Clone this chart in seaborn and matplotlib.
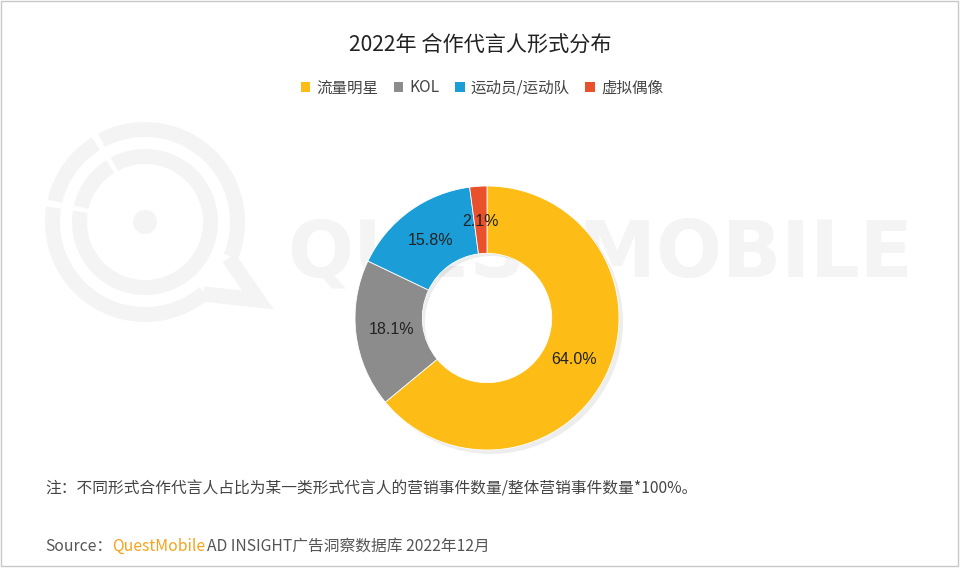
import matplotlib
matplotlib.use("Agg")
import matplotlib.pyplot as plt
import matplotlib.patches as mpatches
import seaborn as sns

# data
categories = ["流量明星", "KOL", "运动员/运动队", "虚拟偶像"]
shares = [64.0, 18.1, 15.8, 2.1]
colors = ["#FDBD16", "#8C8C8C", "#1B9DD8", "#E9502C"]

title = "2022年 合作代言人形式分布"
note = "注：不同形式合作代言人占比为某一类形式代言人的营销事件数量/整体营销事件数量*100%。"
source_parts = [("Source：", "#555555"), ("QuestMobile", "#F7A21B"),
                ("AD INSIGHT广告洞察数据库 2022年12月", "#555555")]

sns.set_theme(style="white")
plt.rcParams["font.family"] = ["Noto Sans CJK SC", "DejaVu Sans"]

W, H = 960, 568
fig = plt.figure(figsize=(W / 100, H / 100), dpi=100)

# background layer in pixel coordinates (y up): frame + watermark
bg = fig.add_axes([0, 0, 1, 1])
bg.set_xlim(0, W)
bg.set_ylim(0, H)
bg.axis("off")
bg.add_patch(mpatches.Rectangle((1, 2), W - 3, H - 3, fill=False,
                                edgecolor="#C8C8C8", linewidth=1))
wm = "#F4F4F4"
lx, ly = 145, H - 222
for r in (100, 73):
    bg.add_patch(mpatches.Wedge((lx, ly), r, 122, 167, width=15, color=wm, lw=0))
bg.add_patch(mpatches.Wedge((lx, ly), 100, 171, 310, width=15, color=wm, lw=0))
bg.add_patch(mpatches.Wedge((lx, ly), 100, 338, 478, width=15, color=wm, lw=0))
bg.add_patch(mpatches.Wedge((lx, ly), 73, 171, 478, width=15, color=wm, lw=0))
bg.add_patch(mpatches.Circle((lx, ly), 12, color=wm, lw=0))
bg.plot([229, 258, 203], [H - 258, H - 300, H - 294], color=wm, lw=11,
        solid_joinstyle="miter", solid_capstyle="butt")
bg.text(600, H - 255, "QUESTMOBILE", fontsize=56, color=wm, ha="center", va="center",
        family=["DejaVu Sans"], fontweight="bold")

# donut
cx, cy, R = 487, 318, 132
pad = 140
ax = fig.add_axes([(cx - pad) / W, (H - cy - pad) / H, 2 * pad / W, 2 * pad / H])
lim = pad / R
ax.axis("off")

# soft shadow
ax.add_patch(mpatches.Wedge((0.03, -0.03), 1.0, 0, 360, width=0.5,
                            color="#000000", alpha=0.07, linewidth=0))

wedges, _, autotexts = ax.pie(
    shares, colors=colors, startangle=90, counterclock=False,
    autopct="%.1f%%", pctdistance=0.73, radius=1.0,
    wedgeprops=dict(width=0.51, edgecolor="white", linewidth=0.6),
    textprops=dict(fontsize=11.5, color="#222222", family=["Liberation Sans"]),
)
ax.set_xlim(-lim, lim)
ax.set_ylim(-lim, lim)
ax.set_aspect("equal")

# title
fig.text(0.5, 1 - 46 / H, title, ha="center", va="center", fontsize=15.2,
         color="#222222", fontweight="medium")

# legend
handles = [mpatches.Patch(facecolor=c, edgecolor="none") for c in colors]
fig.legend(handles, categories, loc="center", bbox_to_anchor=(0.502, 1 - 88 / H),
           ncol=4, frameon=False, fontsize=11.2, handlelength=0.6, handleheight=0.6,
           handletextpad=0.4, columnspacing=1.0, labelcolor="#444444")

# footnote
fig.text(45 / W, 1 - 489 / H, note, ha="left", va="center", fontsize=11.3, color="#444444")

# source line, pieced together from coloured parts
fig.canvas.draw()
renderer = fig.canvas.get_renderer()
x = 45 / W
for txt, col in source_parts:
    t = fig.text(x, 1 - 546 / H, txt, ha="left", va="center", fontsize=11.3, color=col)
    bb = t.get_window_extent(renderer=renderer)
    x += bb.width / W + (2 / W if txt == "QuestMobile" else 0)

fig.savefig("out.png", dpi=100)
